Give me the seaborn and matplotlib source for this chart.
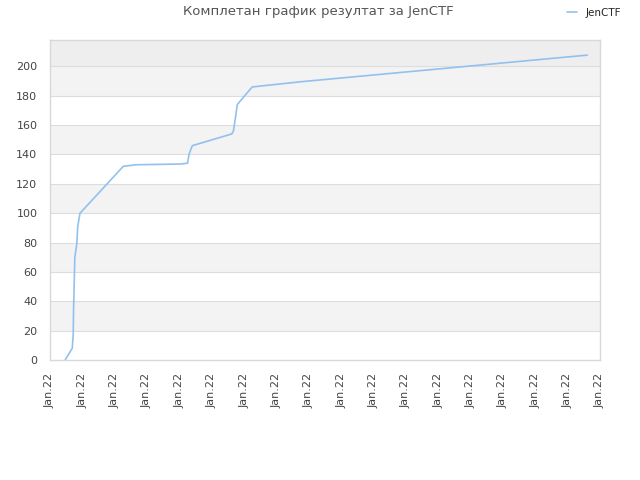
import numpy as np
import pandas as pd
import seaborn as sns
import matplotlib
matplotlib.use('Agg')
import matplotlib.pyplot as plt

# време (дани од почетка) и збирни поени
days = [0.47, 0.69, 0.72, 0.73, 0.77, 0.83, 0.86, 0.93, 2.27, 2.68, 4.02, 4.25,
        4.30, 4.33, 4.40, 5.62, 5.67, 5.72, 5.79, 6.25, 7.73, 16.61]
points = [0, 8, 17, 34, 70, 79, 91, 100, 132, 133, 133.5, 134,
          140, 142, 146, 154, 156, 163, 174, 186, 189.5, 207.7]
tick_labels = ['Jan.22'] * 18
team = 'JenCTF'
title = 'Комплетан график резултат за JenCTF'

df = pd.DataFrame({'day': days, 'score': points, 'team': team})

sns.set_style('white')
plt.rcParams['font.family'] = ['DejaVu Sans']
fig = plt.figure(figsize=(6.4, 4.8), dpi=100)
ax = fig.add_axes([0.078, 0.25, 0.8595, 0.6667])

# наизменичне траке у позадини
for lo in range(20, 200, 40):
    ax.axhspan(lo, lo + 20, color='#f3f3f3', zorder=0, lw=0)
ax.axhspan(200, 220, color='#eeeeee', zorder=0, lw=0)
for yv in range(20, 220, 20):
    ax.axhline(yv, color='#dddddd', lw=0.8, zorder=0.5)

sns.lineplot(data=df, x='day', y='score', hue='team', palette=['#92c1ee'],
             sort=False, lw=1.2, ax=ax, estimator=None)

ax.set_xlim(0, 17)
ax.set_ylim(0, 218)
ax.set_xticks(np.arange(18))
ax.set_xticklabels(tick_labels, rotation=90, fontsize=8, color='#444444')
ax.set_yticks(range(0, 220, 20))
ax.tick_params(axis='y', labelsize=8, colors='#444444', length=0, pad=9)
ax.tick_params(axis='x', length=0, pad=9)
ax.set_xlabel('')
ax.set_ylabel('')
for s in ax.spines.values():
    s.set_color('#d8d8d8')
    s.set_linewidth(1)

ax.legend(loc='upper right', bbox_to_anchor=(1.055, 1.13), frameon=False,
          fontsize=7.5, handlelength=1.0, handletextpad=0.8)
fig.text(0.497, 0.975, title, ha='center', va='center', fontsize=9.5, color='#555555')

fig.savefig('out.png', dpi=100)
